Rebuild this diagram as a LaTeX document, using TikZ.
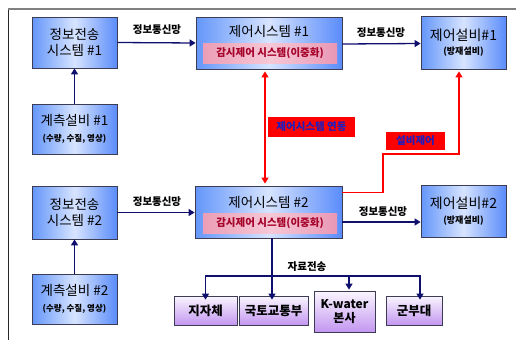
\documentclass[tikz,border=0pt]{standalone}
\usepackage{fontspec}
\setmainfont{Noto Sans CJK KR}
\usetikzlibrary{arrows.meta,calc}
\definecolor{bL}{RGB}{100,150,250}
\definecolor{bM}{RGB}{215,228,255}
\definecolor{bR}{RGB}{90,140,250}
\definecolor{pT}{RGB}{250,246,255}
\definecolor{pB}{RGB}{195,150,240}
\definecolor{pkL}{RGB}{235,158,182}
\definecolor{pkM}{RGB}{246,200,214}
\definecolor{pkR}{RGB}{232,152,180}
\definecolor{pkText}{RGB}{165,0,40}
\definecolor{edge}{RGB}{60,60,85}
\definecolor{navy}{RGB}{15,15,110}
\definecolor{lblue}{RGB}{30,30,190}
\tikzset{
  bluebox/.style={draw=edge, line width=0.8pt, left color=bL, right color=bR, middle color=bM,
    inner sep=0pt, align=center, font=\fontsize{13.5}{16.5}\selectfont},
  purplebox/.style={draw=edge, line width=0.8pt, top color=pT, bottom color=pB,
    inner sep=0pt, align=center, font=\fontsize{12.5}{15}\selectfont\bfseries},
  band/.style={left color=pkL, right color=pkR, middle color=pkM, inner sep=0pt,
    minimum width=134pt, minimum height=20pt, text=pkText, font=\fontsize{10.5}{12}\selectfont\bfseries},
  redlabel/.style={fill=red, inner sep=0pt, text=lblue, font=\fontsize{10.5}{12}\selectfont\bfseries},
  netlabel/.style={font=\fontsize{10.5}{12}\selectfont\bfseries, inner sep=0pt},
  arr/.style={draw=navy, line width=1.3pt, -{Triangle[length=6pt,width=7pt]}},
  bus/.style={draw=navy, line width=1.3pt},
  redarr/.style={draw=red, line width=1.3pt, -{Triangle[length=6pt,width=7pt]}},
  redboth/.style={draw=red, line width=1.3pt, {Triangle[length=6pt,width=7pt]}-{Triangle[length=6pt,width=7pt]}},
  sub/.style={font=\fontsize{8.5}{10}\selectfont\bfseries}
}
\begin{document}
\begin{tikzpicture}[x=1pt,y=-1pt]
\useasboundingbox (0,0) rectangle (516,340);
% frame
\draw[draw={rgb,255:red,128;green,128;blue,128}, line width=2pt] (8,8.5) -- (516,8.5);
\draw[draw={rgb,255:red,40;green,40;blue,40}, line width=1pt] (8,9.5) -- (8,340);

% left column
\node[bluebox, minimum width=85pt, minimum height=51pt] (info1) at (74.5,42.5) {정보전송\\시스템 \#1};
\node[bluebox, minimum width=85pt, minimum height=50pt] (meas1) at (74.5,129) {계측설비 \#1\\[-1pt]{\fontsize{8.5}{10}\selectfont\bfseries (수량, 수질, 영상)}};
\node[bluebox, minimum width=85pt, minimum height=53pt] (info2) at (74.5,212.5) {정보전송\\시스템 \#2};
\node[bluebox, minimum width=85pt, minimum height=50pt] (meas2) at (74.5,299) {계측설비 \#2\\[-1pt]{\fontsize{8.5}{10}\selectfont\bfseries (수량, 수질, 영상)}};

% control systems
\node[bluebox, minimum width=146pt, minimum height=52pt] (ctrl1) at (269,43) {};
\node[font=\fontsize{13.5}{16}\selectfont, inner sep=0pt] (ctrl1t) at (269,31.5) {제어시스템 \#1};
\node[band] (ctrl1b) at (270,53) {감시제어 시스템(이중화)};
\node[bluebox, minimum width=147pt, minimum height=52pt] (ctrl2) at (268.5,212) {};
\node[font=\fontsize{13.5}{16}\selectfont, inner sep=0pt] (ctrl2t) at (268.5,202) {제어시스템 \#2};
\node[band] (ctrl2b) at (270,223) {감시제어 시스템(이중화)};

% devices
\node[bluebox, minimum width=85pt, minimum height=53pt] (dev1) at (463.5,42.5) {{\fontsize{14}{17}\selectfont 제어설비\#1}\\[-2pt]{\fontsize{9}{11}\selectfont\bfseries (방재설비)}};
\node[bluebox, minimum width=85pt, minimum height=52pt] (dev2) at (463.5,211) {{\fontsize{14}{17}\selectfont 제어설비\#2}\\[-2pt]{\fontsize{9}{11}\selectfont\bfseries (방재설비)}};

% bottom boxes
\node[purplebox, minimum width=63pt, minimum height=29pt] (b1) at (205.5,310.5) {지자체};
\node[purplebox, minimum width=69pt, minimum height=29pt] (b2) at (273.5,310.5) {국토교통부};
\node[purplebox, minimum width=61pt, minimum height=41pt, font=\fontsize{12}{14}\selectfont\bfseries] (b3) at (344.5,311.5) {K-water\\본사};
\node[purplebox, minimum width=56pt, minimum height=29pt] (b4) at (414,310.5) {군부대};

% navy arrows
\draw[arr] (meas1.north) -- (info1.south);
\draw[arr] (meas2.north) -- (info2.south);
\draw[arr] (info1.east) -- (ctrl1.west);
\node[netlabel] (n1) at (157,30) {정보통신망};
\draw[arr] ([yshift=-1pt]ctrl1.east) -- ([yshift=-1pt]dev1.west);
\node[netlabel] (n2) at (381,32.5) {정보통신망};
\draw[arr] (info2.east) -- (info2.east -| ctrl2.west);
\node[netlabel] (n3) at (157,202) {정보통신망};
\coordinate (a2) at ([yshift=-10pt]ctrl2.east);
\draw[arr] (a2) -- (a2 -| dev2.west);
\node[netlabel] (n4) at (383,212) {정보통신망};

% bus
\coordinate (bus) at (272,276);
\draw[bus] (bus |- ctrl2.south) -- (bus);
\draw[arr] (bus) -| ([yshift=-4pt]b1.north);
\draw[arr] (bus) -| ([xshift=6pt,yshift=-4pt]b4.north);
\draw[arr] (bus) -- ([xshift=-1.5pt,yshift=-4pt]b2.north);
\draw[arr] (bus) -| ([xshift=4.5pt,yshift=1pt]b3.north);
\node[netlabel] (n5) at (307,267) {자료전송};

% red connectors
\coordinate (r1) at (265,0);
\draw[redboth, shorten <=2pt, shorten >=2pt] (r1 |- ctrl1.south) -- (r1 |- ctrl2.north);
\node[redlabel, minimum width=87pt, minimum height=20pt] (lab1) at (311.5,127) {제어시스템 연동};
\coordinate (r2) at ([yshift=-7pt]ctrl2.north east);
\coordinate (r3) at (383,154);
\coordinate (r4) at (459,154);
\draw[redarr, shorten >=2pt] (r2) -| (r3) -- (r4) -- (r4 |- dev1.south);
\node[redlabel, minimum width=59pt, minimum height=18pt] (lab2) at (415.5,141) {설비제어};
\end{tikzpicture}
\end{document}
